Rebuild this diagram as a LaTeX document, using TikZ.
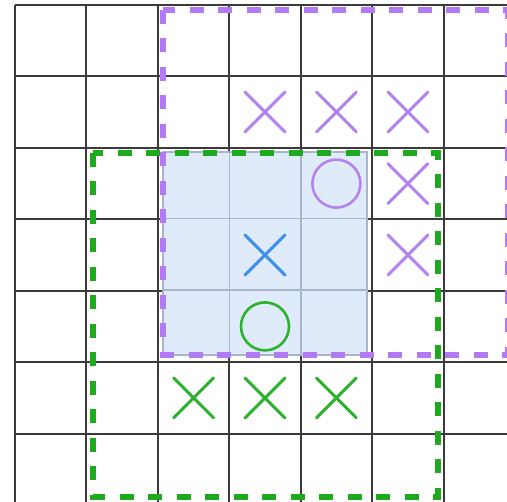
\documentclass[tikz,border=0pt]{standalone}
\usetikzlibrary{shapes.misc}
\definecolor{gridc}{HTML}{3A3A3A}
\definecolor{purp}{HTML}{B27AF4}
\definecolor{purpm}{HTML}{B383EE}
\definecolor{grn}{HTML}{1DAA1D}
\definecolor{grnm}{HTML}{2CB22C}
\definecolor{blu}{HTML}{3D8FEA}
\definecolor{ovlfill}{HTML}{DFEAFA}
\definecolor{ovlline}{HTML}{A8B6CC}
\tikzset{
  gridline/.style={draw=gridc, line width=2},
  innerline/.style={draw=ovlline, line width=1.6},
  region/.style={line width=5.2, dash pattern=on 14pt off 14.5pt},
  xmark/.style={cross out, draw, minimum size=37, inner sep=0pt, line width=3, line cap=round},
  omark/.style={circle, draw, minimum size=48, inner sep=0pt, line width=2.6},
}
\begin{document}
\begin{tikzpicture}[x=1pt,y=-1pt]
\useasboundingbox (0,0) rectangle (507,502);
\clip (0,0) rectangle (507,502);
\fill[white] (0,0) rectangle (507,502);
% grid
\foreach \i in {0,...,7} {
  \draw[gridline] ({15+71.43*\i},5) -- ({15+71.43*\i},530);
  \draw[gridline] (15,{5+71.43*\i}) -- (530,{5+71.43*\i});
}
% shaded overlap
\fill[ovlfill] (163,152) rectangle (367,355);
\draw[innerline] (229.3,152) -- (229.3,355);
\draw[innerline] (300.7,152) -- (300.7,355);
\draw[innerline] (163,218.6) -- (367,218.6);
\draw[innerline] (163,290) -- (367,290);
\draw[ovlline, line width=1.2] (163,152) rectangle (367,355);
% regions
\draw[purp, region] (163,10) rectangle (508,355);
\draw[grn, region] (93,153) rectangle (438,497);
% marks
\node[xmark, draw=purpm] (x13) at (265,112) {};
\node[xmark, draw=purpm] (x14) at (336.4,112) {};
\node[xmark, draw=purpm] (x15) at (407.9,112) {};
\node[xmark, draw=purpm] (x25) at (407.9,183.6) {};
\node[xmark, draw=purpm] (x35) at (407.9,255) {};
\node[omark, draw=purpm] (o24) at (336.4,183.6) {};
\node[xmark, draw=blu] (x33) at (265,255) {};
\node[omark, draw=grnm] (o43) at (265,326.4) {};
\node[xmark, draw=grnm] (x52) at (193.6,397.9) {};
\node[xmark, draw=grnm] (x53) at (265,397.9) {};
\node[xmark, draw=grnm] (x54) at (336.4,397.9) {};
\end{tikzpicture}
\end{document}
